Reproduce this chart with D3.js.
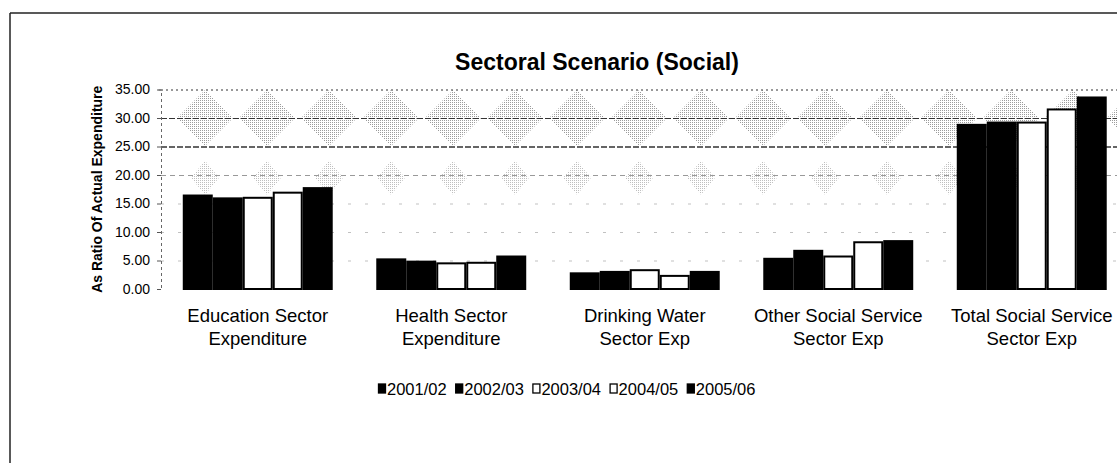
<!DOCTYPE html>
<html>
<head>
<meta http-equiv="Content-Type" content="text/html;charset=utf-8">
<script type="text/javascript" src="https://d3js.org/d3.v7.min.js"></script>
<style>
  body { margin: 0; background: #fff; }
  text { font-family: "Liberation Sans", Arial, sans-serif; fill: #000; }
</style>
</head>
<body>
<div id="chart"></div>
<script type="text/javascript">

var categories = [
  ["Education Sector", "Expenditure"],
  ["Health Sector", "Expenditure"],
  ["Drinking Water", "Sector Exp"],
  ["Other Social Service", "Sector Exp"],
  ["Total Social Service", "Sector Exp"]
];
var series = ["2001/02", "2002/03", "2003/04", "2004/05", "2005/06"];
var v2001 = [16.4, 5.2, 2.75, 5.3, 28.8];
var v2002 = [15.9, 4.8, 3.0, 6.7, 29.2];
var v2003 = [16.0, 4.5, 3.3, 5.7, 29.2];
var v2004 = [16.9, 4.6, 2.3, 8.2, 31.5];
var v2005 = [17.7, 5.7, 3.0, 8.4, 33.6];
var yTicks = [0, 5, 10, 15, 20, 25, 30, 35];

var values = [v2001, v2002, v2003, v2004, v2005];
var fills = ["#000", "#000", "#fff", "#fff", "#000"];

var width = 1117, height = 463;
var plot = {left: 161, right: 1128.5, top: 89.5, bottom: 289};

var svg = d3.select("#chart").append("svg")
    .attr("width", width)
    .attr("height", height);

// stipple pattern, imitates the scanned grey texture
var pat = svg.append("defs").append("pattern")
    .attr("id", "stipple").attr("patternUnits", "userSpaceOnUse")
    .attr("width", 2).attr("height", 2);
pat.append("rect").attr("x", 0).attr("y", 0).attr("width", 1).attr("height", 1).attr("fill", "#8a8a8a");

// outer frame (only top and left edges are visible)
svg.append("line").attr("x1", 10).attr("y1", 13).attr("x2", width).attr("y2", 13)
    .attr("stroke", "#222").attr("stroke-width", 1.5);
svg.append("line").attr("x1", 10).attr("y1", 13).attr("x2", 10).attr("y2", height)
    .attr("stroke", "#222").attr("stroke-width", 1.5);

var y = d3.scaleLinear().domain([0, 35]).range([plot.bottom, plot.top]);
var x = d3.scaleBand().domain(d3.range(categories.length))
    .range([plot.left, plot.right])
    .paddingInner(0.225).paddingOuter(0.1125);
var xs = d3.scaleBand().domain(d3.range(series.length)).range([0, x.bandwidth()]);

// background diamonds
var diamonds = svg.append("g");
var dx = 62;
for (var cx = 205; cx < width + 30; cx += dx) {
  diamonds.append("path")
    .attr("d", "M" + cx + "," + (y(30) - 28) + "l28,28l-28,28l-28,-28z")
    .attr("fill", "url(#stipple)").attr("opacity", 0.85);
  diamonds.append("path")
    .attr("d", "M" + cx + "," + (y(19.5) - 17) + "l14,17l-14,17l-14,-17z")
    .attr("fill", "url(#stipple)").attr("opacity", 0.55);
}

// gridlines
var grid = svg.append("g");
grid.selectAll("line").data(yTicks.filter(function (d) { return d > 0; }))
  .enter().append("line")
    .attr("x1", plot.left).attr("x2", width)
    .attr("y1", function (d) { return y(d) + 0.5; })
    .attr("y2", function (d) { return y(d) + 0.5; })
    .attr("stroke", function (d) { return d >= 25 ? "#333" : "#999"; })
    .attr("stroke-width", function (d) { return d == 25 ? 1.3 : 1; })
    .attr("stroke-dasharray", function (d) {
      if (d == 35) return "2,3";
      if (d >= 25) return "6,2";
      if (d == 20) return "5,4";
      return "3,14";
    })
    .attr("opacity", function (d) { return d >= 20 ? 1 : 0.6; });

// y axis
var yAxis = d3.axisLeft(y).tickValues(yTicks).tickSize(4).tickFormat(d3.format(".2f"));
var ya = svg.append("g").attr("transform", "translate(" + plot.left + ",0)").call(yAxis);
ya.select(".domain").attr("stroke", "#666").attr("stroke-dasharray", "3,3");
ya.selectAll(".tick line").attr("stroke", "#555");
ya.selectAll(".tick text")
    .attr("x", -11)
    .style("font-family", "'Liberation Sans', Arial, sans-serif")
    .style("font-size", "14px").attr("fill", "#000");

svg.append("text")
    .attr("transform", "translate(102," + ((plot.top + plot.bottom) / 2) + ") rotate(-90)")
    .attr("text-anchor", "middle")
    .style("font-size", "14px").style("font-weight", "bold")
    .text("As Ratio Of Actual Expenditure");

// bars
var groups = svg.append("g").selectAll("g").data(categories).enter().append("g")
    .attr("transform", function (d, i) { return "translate(" + x(i) + ",0)"; });
groups.selectAll("rect")
  .data(function (d, i) { return values.map(function (s, j) { return {s: j, v: s[i]}; }); })
  .enter().append("rect")
    .attr("x", function (d) { return xs(d.s) + 1; })
    .attr("width", xs.bandwidth() - 2)
    .attr("y", function (d) { return y(d.v); })
    .attr("height", function (d) { return y(0) - y(d.v); })
    .attr("fill", function (d) { return fills[d.s]; })
    .attr("stroke", "#000").attr("stroke-width", 2);

// category labels
var labels = svg.append("g").selectAll("text").data(categories).enter().append("text")
    .attr("text-anchor", "middle")
    .attr("x", function (d, i) { return x(i) + x.bandwidth() / 2; })
    .attr("y", 322)
    .style("font-size", "18.5px");
labels.selectAll("tspan").data(function (d) { return d; }).enter().append("tspan")
    .attr("x", function () { return d3.select(this.parentNode).attr("x"); })
    .attr("dy", function (d, i) { return i ? 23 : 0; })
    .text(function (d) { return d; });

// title
svg.append("text")
    .attr("x", 597).attr("y", 70)
    .attr("text-anchor", "middle")
    .style("font-size", "23px").style("font-weight", "bold")
    .text("Sectoral Scenario (Social)");

// legend
var legend = svg.append("g").attr("transform", "translate(378,0)");
var items = legend.selectAll("g").data(series).enter().append("g")
    .attr("transform", function (d, i) { return "translate(" + (i * 77.2) + ",0)"; });
items.append("rect")
    .attr("x", 0.5).attr("y", 384).attr("width", 7).attr("height", 9)
    .attr("fill", function (d, i) { return fills[i]; })
    .attr("stroke", "#000").attr("stroke-width", 1.3);
items.append("text")
    .attr("x", 9).attr("y", 395)
    .style("font-size", "16.5px")
    .text(function (d) { return d; });

		</script>
	</body>
</html>
